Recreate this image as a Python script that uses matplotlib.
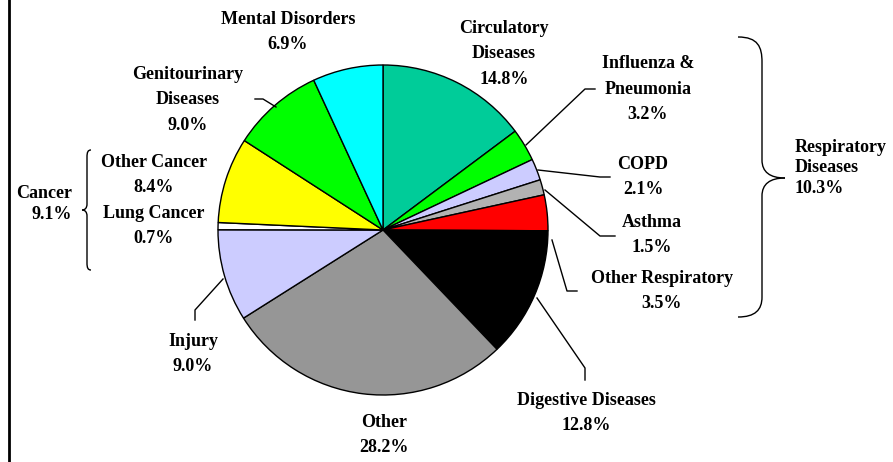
import matplotlib
matplotlib.use("Agg")
import matplotlib.pyplot as plt
from matplotlib.path import Path
import matplotlib.patches as mpatches

# data
causes = ["Circulatory\nDiseases", "Influenza &\nPneumonia", "COPD", "Asthma",
          "Other Respiratory", "Digestive Diseases", "Other", "Injury",
          "Lung Cancer", "Other Cancer", "Genitourinary\nDiseases", "Mental Disorders"]
shares = [14.8, 3.2, 2.1, 1.5, 3.5, 12.8, 28.2, 9.0, 0.7, 8.4, 9.0, 6.9]
slice_colors = ["#00CC99", "#00FF00", "#CCCCFF", "#B2B2B2", "#FF0000", "#000000",
                "#969696", "#CCCCFF", "#FFFFFF", "#FFFF00", "#00FF00", "#00FFFF"]
group_labels = ["Respiratory\nDiseases\n10.3%", "Cancer\n9.1%"]

W, H = 893, 462
fig = plt.figure(figsize=(W / 100, H / 100), dpi=100)
ax = fig.add_axes([0, 0, 1, 1])
ax.set_xlim(0, W)
ax.set_ylim(0, H)
ax.set_aspect("equal")
ax.axis("off")

ax.pie(shares, colors=slice_colors, startangle=90, counterclock=False,
       center=(383, 232), radius=165,
       wedgeprops=dict(edgecolor="black", linewidth=1))
ax.set_xlim(0, W)
ax.set_ylim(0, H)

# label positions (x, y from bottom) in pixels
label_pos = [(504, 408), (648, 373), (643, 285), (652, 227), (662, 171),
             (586, 49), (384, 27), (193, 108), (154, 236), (154, 287),
             (188, 362), (288, 430)]
tfont = dict(family="Liberation Serif", weight="bold", fontsize=13)
for name, val, (x, y) in zip(causes, shares, label_pos):
    ax.text(x, y, f"{name}\n{val:.1f}%", ha="center", va="center",
            linespacing=1.65, **tfont)

# leader lines
leaders = [
    [(255, 363), (263, 363), (276, 355)],
    [(526, 317), (585, 373), (595, 373)],
    [(538, 292), (600, 285), (610, 285)],
    [(545, 272), (600, 226), (615, 226)],
    [(552, 222), (567, 171), (577, 171)],
    [(537, 164), (585, 94), (585, 82)],
    [(223, 183), (195, 152), (195, 142)],
]
for pts in leaders:
    xs, ys = zip(*pts)
    ax.plot(xs, ys, color="black", lw=1)

# braces
def brace(verts, codes):
    ax.add_patch(mpatches.PathPatch(Path(verts, codes), fill=False, lw=1, ec="black"))

M, L, C = Path.MOVETO, Path.LINETO, Path.CURVE4
brace([(738, 425), (758, 425), (762, 415), (762, 400), (762, 302),
       (762, 290), (770, 284), (785, 284)],
      [M, C, C, C, L, C, C, C])
brace([(785, 284), (770, 284), (762, 278), (762, 266), (762, 165),
       (762, 152), (755, 145), (738, 145)],
      [M, C, C, C, L, C, C, C])
brace([(91, 312), (88, 312), (87, 310), (87, 305), (87, 258),
       (87, 254), (85, 252), (82, 252)],
      [M, C, C, C, L, C, C, C])
brace([(82, 252), (85, 252), (87, 250), (87, 246), (87, 199),
       (87, 194), (88, 192), (91, 192)],
      [M, C, C, C, L, C, C, C])

gfont = dict(family="Liberation Serif", weight="bold", fontsize=13)
ax.text(795, 294, group_labels[0], ha="left", va="center", linespacing=1.3, **gfont)
ax.text(72, 258, group_labels[1], ha="right", va="center", linespacing=1.3, **gfont)

# left border
ax.plot([9, 9], [0, H], color="black", lw=2)

fig.savefig("out.png", dpi=100)
